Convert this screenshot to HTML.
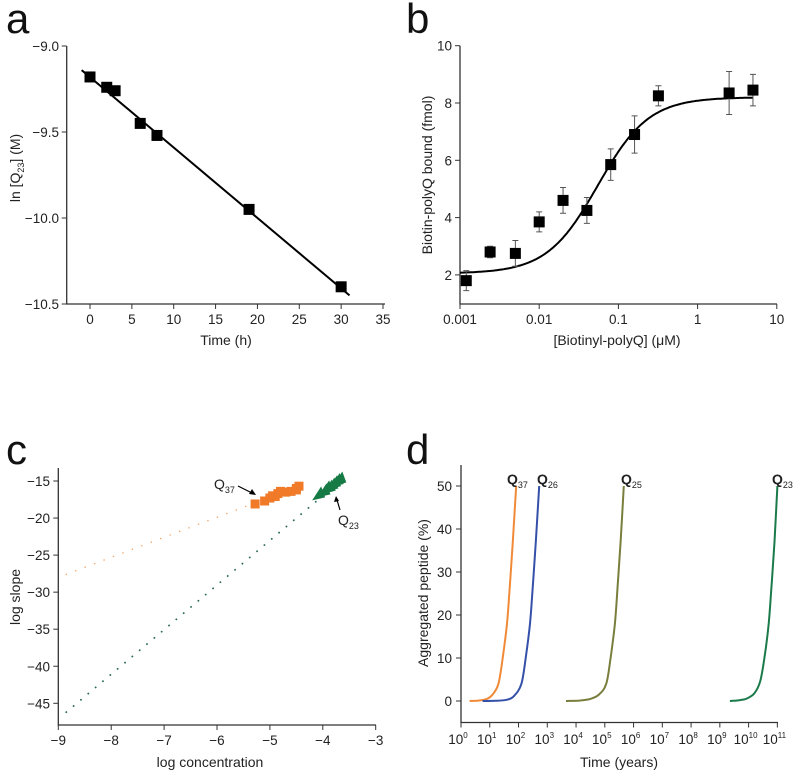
<!DOCTYPE html>
<html><head><meta charset="utf-8">
<style>
body{margin:0;background:#fff;}
svg{display:block;font-family:"Liberation Sans",Arial,sans-serif;}
.t{font-size:13.5px;fill:#222;}
.tl{font-size:14px;fill:#222;}
.L{font-size:42px;fill:#111;}
</style></head>
<body>
<svg id="fig" width="800" height="776" viewBox="0 0 800 776" xmlns="http://www.w3.org/2000/svg">
<text class="L" x="6" y="33">a</text>
<text class="L" x="406" y="33">b</text>
<text class="L" x="6" y="464">c</text>
<text class="L" x="406" y="464">d</text>
</svg>
<script>
// ---- Panel a data ----
const aTime=[0,2,3,6,8,19,30];
const aLnQ=[-9.18,-9.24,-9.26,-9.45,-9.52,-9.95,-10.40];
const aFitX=[-1,31];
const aFitY=[-9.14,-10.45];
const aXTicks=[0,5,10,15,20,25,30,35];
const aYTicks=[-9.0,-9.5,-10.0,-10.5];
const aYTickLabels=["\u22129.0","\u22129.5","\u221210.0","\u221210.5"];
// ---- Panel b data ----
const bConc=[0.0012,0.0024,0.005,0.01,0.02,0.04,0.08,0.16,0.32,2.5,5];
const bBound=[1.8,2.8,2.75,3.85,4.6,4.25,5.85,6.9,8.25,8.35,8.45];
const bErr=[0.35,0.2,0.45,0.35,0.45,0.45,0.55,0.65,0.35,0.75,0.55];
const bFitBottom=[2.05], bFitTop=[8.2], bFitEC50=[0.055], bFitHill=[1.35];
const bXTicks=[0.001,0.01,0.1,1,10];
const bXTickLabels=["0.001","0.01","0.1","1","10"];
const bYTicks=[2,4,6,8,10];
// ---- Panel c data ----
const cQ37X=[-5.28,-5.1,-5.0,-4.95,-4.9,-4.85,-4.8,-4.7,-4.6,-4.5,-4.5,-4.45];
const cQ37Y=[-18.1,-17.7,-17.3,-17.0,-17.1,-16.7,-16.4,-16.5,-16.4,-16.2,-16.0,-15.7];
const cQ23X=[-4.05,-3.95,-3.9,-3.85,-3.8,-3.75,-3.7,-3.65];
const cQ23Y=[-16.8,-16.4,-16.0,-15.9,-15.6,-15.3,-15.0,-14.8];
const cQ37LineX=[-8.85,-5.3], cQ37LineY=[-27.6,-18.0];
const cQ23LineX=[-8.85,-4.1], cQ23LineY=[-46.2,-17.6];
const cXTicks=[-9,-8,-7,-6,-5,-4,-3];
const cYTicks=[-15,-20,-25,-30,-35,-40,-45];
// ---- Panel d data (log10 years, % aggregated) ----
const dQ37LogT=[0.3,0.6,0.9,1.1,1.3,1.45,1.6,1.7,1.8,1.92];
const dQ37Y=[0,0.1,0.5,1.5,4,10,18,27,37,50];
const dQ26LogT=[0.75,1.2,1.6,1.85,2.1,2.25,2.4,2.5,2.6,2.72];
const dQ26Y=[0,0.05,0.3,1.2,4,10,18,27,37,50];
const dQ25LogT=[3.65,4.1,4.5,4.8,5.05,5.2,5.35,5.45,5.55,5.66];
const dQ25Y=[0,0.1,0.5,1.5,4,10,18,27,37,50];
const dQ23LogT=[9.35,9.7,9.95,10.2,10.4,10.55,10.7,10.8,10.9,11.0];
const dQ23Y=[0,0.2,0.6,1.8,4.5,10,18,27,37,50];
const dXTicks=[0,1,2,3,4,5,6,7,8,9,10,11];
const dYTicks=[0,10,20,30,40,50];

const svg=document.getElementById('fig');
const NS='http://www.w3.org/2000/svg';
function mk(tag,attrs,parent){const e=document.createElementNS(NS,tag);for(const k in attrs)e.setAttribute(k,attrs[k]);(parent||svg).appendChild(e);return e;}
function txt(s,x,y,anchor,cls,parent){const e=mk('text',{x:x,y:y,'text-anchor':anchor||'middle','class':cls||'t'},parent);e.textContent=s;return e;}

// ===== Panel a =====
const ax=v=>90+(v-0)*(293/35);
function ayf(v){return 46+(-9-v)*(258/1.5);}
let g=mk('g',{});


let e=mk('path',{d:`M66.7,46V304H385`,stroke:'#333','stroke-width':1.3,fill:'none'},g);


aXTicks.forEach(v=>{mk('line',{x1:ax(v),x2:ax(v),y1:304,y2:309,stroke:'#333'},g);e=txt(String(v),ax(v),324,'middle','t',g);

});
aYTicks.forEach((v,i)=>{mk('line',{x1:61.7,x2:66.7,y1:ayf(v),y2:ayf(v),stroke:'#333'},g);e=txt(aYTickLabels[i],59,ayf(v)+5,'end','t',g);

});
e=mk('line',{x1:ax(aFitX[0]),y1:ayf(aFitY[0]),x2:ax(aFitX[1]),y2:ayf(aFitY[1]),stroke:'#000','stroke-width':2},g);


aTime.forEach((t,i)=>{e=mk('rect',{x:ax(t)-5.5,y:ayf(aLnQ[i])-5.5,width:11,height:11,fill:'#000'},g);

});
e=txt('Time (h)',226,345,'middle','tl',g);


e=mk('text',{x:0,y:0,'text-anchor':'middle','class':'tl',transform:'translate(20,168) rotate(-90)'},g);
e.innerHTML='ln [Q<tspan font-size="9" dy="4">23</tspan><tspan dy="-4">] (M)</tspan>';



// ===== Panel b =====
const bx=v=>460+(Math.log10(v)+3)*79.2, by=v=>45.7+(10-v)*28.65;
g=mk('g',{});


e=mk('path',{d:`M460,45.7V304H777`,stroke:'#333','stroke-width':1.3,fill:'none'},g);


bXTicks.forEach((v,i)=>{mk('line',{x1:bx(v),x2:bx(v),y1:304,y2:309,stroke:'#333'},g);e=txt(bXTickLabels[i],bx(v),324,'middle','t',g);

});
bYTicks.forEach(v=>{mk('line',{x1:455,x2:460,y1:by(v),y2:by(v),stroke:'#333'},g);e=txt(String(v),452,by(v)+5,'end','t',g);

});
let d='';for(let k=0;k<=200;k++){const lx=-3+k*(3.7/200);const c=Math.pow(10,lx);const yv=bFitBottom[0]+(bFitTop[0]-bFitBottom[0])/(1+Math.pow(bFitEC50[0]/c,bFitHill[0]));d+=(k?'L':'M')+bx(c).toFixed(1)+','+by(yv).toFixed(1);}
e=mk('path',{d:d,stroke:'#000','stroke-width':2,fill:'none'},g);


bConc.forEach((c,i)=>{const x=bx(c);mk('path',{d:`M${x},${by(bBound[i]+bErr[i])}V${by(bBound[i]-bErr[i])}M${x-3},${by(bBound[i]+bErr[i])}h6M${x-3},${by(bBound[i]-bErr[i])}h6`,stroke:'#555','stroke-width':1,fill:'none'},g);
e=mk('rect',{x:x-5.5,y:by(bBound[i])-5.5,width:11,height:11,fill:'#000'},g);

});
e=mk('text',{x:617,y:345,'text-anchor':'middle','class':'tl'},g);
e.innerHTML='[Biotinyl-polyQ] (\u03bcM)';


e=mk('text',{x:0,y:0,'text-anchor':'middle','class':'tl',transform:'translate(432,175) rotate(-90)'},g);
e.textContent='Biotin-polyQ bound (fmol)';



// ===== Panel c =====
const cx=v=>58.3+(v+9)*52.9, cy=v=>481+(-15-v)*7.41;
g=mk('g',{});


e=mk('path',{d:`M58.3,468V725H376`,stroke:'#333','stroke-width':1.3,fill:'none'},g);


cXTicks.forEach(v=>{mk('line',{x1:cx(v),x2:cx(v),y1:725,y2:730,stroke:'#333'},g);e=txt(v<0?'\u2212'+(-v):String(v),cx(v),745,'middle','t',g);

});
cYTicks.forEach(v=>{mk('line',{x1:53.3,x2:58.3,y1:cy(v),y2:cy(v),stroke:'#333'},g);e=txt('\u2212'+(-v),50,cy(v)+5,'end','t',g);

});
e=mk('line',{x1:cx(cQ37LineX[0]),y1:cy(cQ37LineY[0]),x2:cx(cQ37LineX[1]),y2:cy(cQ37LineY[1]),stroke:'#f0a060','stroke-width':1.4,'stroke-dasharray':'0.1 10','stroke-linecap':'round'},g);


e=mk('line',{x1:cx(cQ23LineX[0]),y1:cy(cQ23LineY[0]),x2:cx(cQ23LineX[1]),y2:cy(cQ23LineY[1]),stroke:'#2a6a55','stroke-width':1.8,'stroke-dasharray':'0.1 9.5','stroke-linecap':'round'},g);


cQ37X.forEach((v,i)=>{e=mk('rect',{x:cx(v)-4.5,y:cy(cQ37Y[i])-4.5,width:9,height:9,fill:'#f07a28'},g);

});
cQ23X.forEach((v,i)=>{const x=cx(v),y=cy(cQ23Y[i]);e=mk('polygon',{points:`${x-8},${y+6} ${x+5},${y+3} ${x+1},${y-8}`,fill:'#167a45'},g);

});
e=mk('text',{x:214,y:489,'class':'tl'},g);e.innerHTML='Q<tspan font-size="9" dy="4">37</tspan>';


mk('line',{x1:238,y1:486,x2:252,y2:493,stroke:'#000','stroke-width':1.2},g);
mk('polygon',{points:'256,495 249,494 252,489',fill:'#000'},g);
e=mk('text',{x:338,y:525,'class':'tl'},g);e.innerHTML='Q<tspan font-size="9" dy="4">23</tspan>';


mk('line',{x1:340,y1:510,x2:337,y2:500,stroke:'#000','stroke-width':1.2},g);
mk('polygon',{points:'336,496 334,502 339,501',fill:'#000'},g);
e=txt('log concentration',210,767,'middle','tl',g);


e=mk('text',{x:0,y:0,'text-anchor':'middle','class':'tl',transform:'translate(20,597) rotate(-90)'},g);
e.textContent='log slope';



// ===== Panel d =====
const dx=v=>461+v*28.76, dy=v=>701-v*4.3;
g=mk('g',{});


e=mk('path',{d:`M461,465V722.5H778`,stroke:'#333','stroke-width':1.3,fill:'none'},g);


dXTicks.forEach(v=>{mk('line',{x1:dx(v),x2:dx(v),y1:722.5,y2:727.5,stroke:'#333'},g);e=mk('text',{x:dx(v)-3,y:744,'text-anchor':'middle','class':'t'},g);e.innerHTML='10<tspan font-size="8" dy="-6">'+v+'</tspan>';

});
dYTicks.forEach(v=>{mk('line',{x1:456,x2:461,y1:dy(v),y2:dy(v),stroke:'#333'},g);e=txt(String(v),452,dy(v)+5,'end','t',g);

});
function curve(xs,ys,col){
  const P=xs.map((v,i)=>[dx(v),dy(ys[i])]);
  let p='M'+P[0][0].toFixed(1)+','+P[0][1].toFixed(1);
  for(let i=0;i<P.length-1;i++){
    const p0=P[Math.max(0,i-1)],p1=P[i],p2=P[i+1],p3=P[Math.min(P.length-1,i+2)];
    const c1=[p1[0]+(p2[0]-p0[0])/6,p1[1]+(p2[1]-p0[1])/6];
    const c2=[p2[0]-(p3[0]-p1[0])/6,p2[1]-(p3[1]-p1[1])/6];
    p+=`C${c1[0].toFixed(1)},${c1[1].toFixed(1)} ${c2[0].toFixed(1)},${c2[1].toFixed(1)} ${p2[0].toFixed(1)},${p2[1].toFixed(1)}`;
  }
  return mk('path',{d:p,stroke:col,'stroke-width':2,fill:'none','stroke-linejoin':'round'},g);}
e=curve(dQ37LogT,dQ37Y,'#f08a38');


e=curve(dQ26LogT,dQ26Y,'#3550a8');


e=curve(dQ25LogT,dQ25Y,'#7a7e3c');


e=curve(dQ23LogT,dQ23Y,'#1a7a4a');


[['37',507],['26',537],['25',621],['23',772]].forEach(a=>{e=mk('text',{x:a[1],y:484,'class':'tl','font-weight':'bold'},g);e.innerHTML='Q<tspan font-size="9" font-weight="normal" dy="4">'+a[0]+'</tspan>';

});
e=txt('Time (years)',619,767,'middle','tl',g);


e=mk('text',{x:0,y:0,'text-anchor':'middle','class':'tl',transform:'translate(428,593) rotate(-90)'},g);
e.textContent='Aggregated peptide (%)';


</script>
</body></html>
